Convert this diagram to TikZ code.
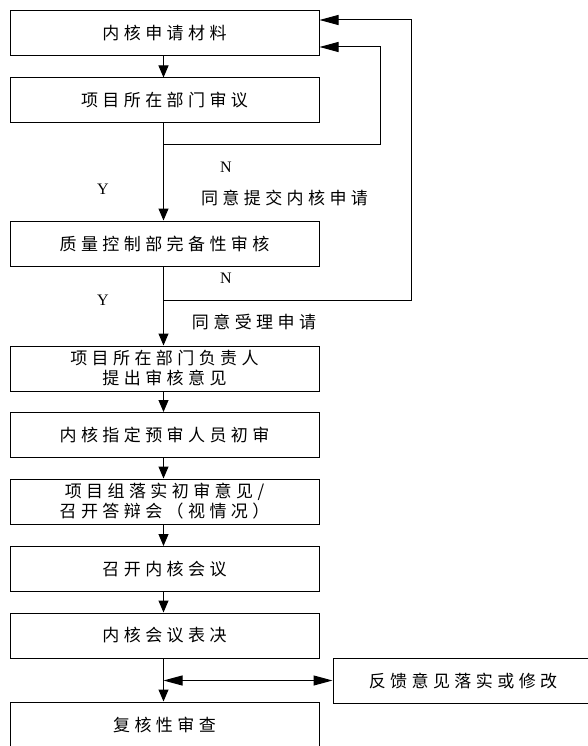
\documentclass[tikz,border=0pt]{standalone}
\usepackage{fontspec}
\setmainfont{Liberation Serif}
\newfontfamily\cjk[LetterSpace=26]{Noto Sans CJK SC}
\usetikzlibrary{arrows.meta}
\begin{document}
\begin{tikzpicture}[x=1pt,y=-1pt,
 box/.style={draw, line width=1pt, minimum width=309pt, minimum height=45pt, inner sep=0pt,
   font=\cjk\fontsize{17}{20}\selectfont, align=center},
 line/.style={line width=1pt},
 varr/.style={-{Triangle[length=12pt,width=10pt]}},
 harr/.style={-{Triangle[length=19pt,width=10pt]}},
 dharr/.style={{Triangle[length=19pt,width=10pt]}-{Triangle[length=19pt,width=10pt]}},
 lab/.style={font=\fontsize{16}{16}\selectfont, inner sep=0pt},
 cjklab/.style={font=\cjk\fontsize{17}{17}\selectfont, inner sep=0pt}]
\useasboundingbox (0,0) rectangle (588,746);
\clip (0,0) rectangle (588,746);
\fill[white] (0,0) rectangle (588,746);

\node[box] (b1) at (164.5,33.5) {内核申请材料};
\node[box] (b2) at (164.5,100.5) {项目所在部门审议};
\node[box] (b3) at (164.5,243.5) {质量控制部完备性审核};
\node[box] (b4) at (164.5,368.5) {项目所在部门负责人\\提出审核意见};
\node[box] (b5) at (164.5,435) {内核指定预审人员初审};
\node[box] (b6) at (164.5,501.5) {项目组落实初审意见/\\召开答辩会（视情况）};
\node[box] (b7) at (164.5,569) {召开内核会议};
\node[box] (b8) at (164.5,635.5) {内核会议表决};
\node[box] (b9) at (164.5,724.5) {复核性审查};
\node[box, minimum width=260pt] (fb) at (463,680.5) {反馈意见落实或修改};

\node[lab] (n1) at (226,167) {N};
\node[lab] (y1) at (103,189) {Y};
\node[cjklab] (t1) at (284.5,198) {同意提交内核申请};
\node[lab] (n2) at (226,278) {N};
\node[lab] (y2) at (103,300) {Y};
\node[cjklab] (t2) at (254,322) {同意受理申请};

\coordinate (j1) at (163.5,145);
\coordinate (c1) at (380,145);
\coordinate (j2) at (163.5,300.5);
\coordinate (c2) at (411,300.5);
\coordinate (j3) at (163.5,680.5);

\draw[line,varr] ([xshift=-1pt]b1.south) -- ([xshift=-1pt]b2.north);
\draw[line,varr] ([xshift=-1pt]b2.south) -- ([xshift=-1pt]b3.north);
\draw[line,varr] ([xshift=-1pt]b3.south) -- ([xshift=-1pt]b4.north);
\draw[line,varr] ([xshift=-1pt]b4.south) -- ([xshift=-1pt]b5.north);
\draw[line,varr] ([xshift=-1pt]b5.south) -- ([xshift=-1pt]b6.north);
\draw[line,varr] ([xshift=-1pt]b6.south) -- ([xshift=-1pt]b7.north);
\draw[line,varr] ([xshift=-1pt]b7.south) -- ([xshift=-1pt]b8.north);
\draw[line,varr] ([xshift=-1pt]b8.south) -- ([xshift=-1pt]b9.north);

\draw[line,harr] (j1) -- (c1) |- ([yshift=-13.5pt]b1.east);
\draw[line,harr] (j2) -- (c2) |- ([yshift=13.5pt]b1.east);
\draw[line,dharr] (j3) -- (fb.west);
\end{tikzpicture}
\end{document}
